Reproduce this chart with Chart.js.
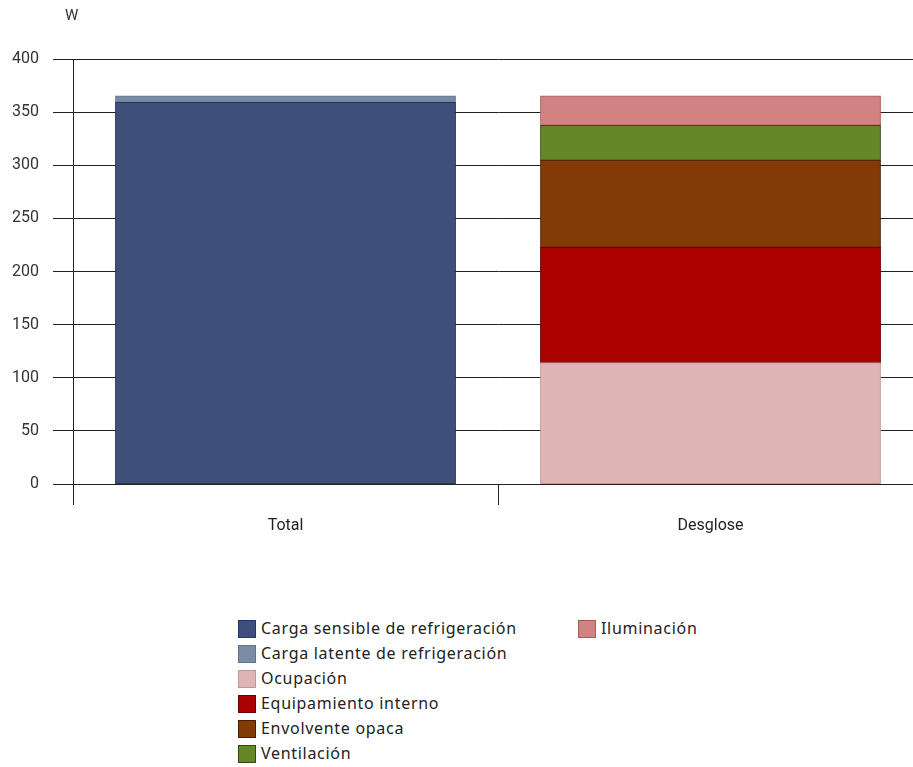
<!DOCTYPE html>
<html>
<head>
<meta charset="utf-8">
<script src="https://cdn.jsdelivr.net/npm/chart.js@4/dist/chart.umd.min.js"></script>
<style>
  html, body { margin: 0; padding: 0; background: #fff; overflow: hidden; width: 913px; height: 767px; }
  #wrap { position: absolute; left: 0; top: 0; }
  #legend { position: absolute; left: 238px; top: 619px; font-family: "Noto Sans", sans-serif; font-size: 16px; letter-spacing: 0.7px; color: #222; }
  .col { position: absolute; top: 0; white-space: nowrap; }
  .item { height: 25px; display: flex; align-items: flex-start; }
  .box { width: 18px; height: 18px; box-sizing: border-box; border: 1px solid; margin-right: 5px; margin-top: 1px; flex: none; }
  .lbl { line-height: 19px; }
</style>
</head>
<body>
<div id="wrap"><canvas id="c" width="923" height="560"></canvas></div>
<div id="legend"></div>
<script>
// Categories and tick labels
const categories = ["Total", "Desglose"];
const yTicks = [0, 50, 100, 150, 200, 250, 300, 350, 400];
const unitLabel = "W";

// Series (W)
const cargaSensible   = [359.2, null];
const cargaLatente    = [6.0, null];
const ocupacion       = [null, 114.2];
const equipamiento    = [null, 108.6];
const envolvente      = [null, 81.9];
const ventilacion     = [null, 32.9];
const iluminacion     = [null, 27.6];

const seriesNames = [
  "Carga sensible de refrigeración",
  "Carga latente de refrigeración",
  "Ocupación",
  "Equipamiento interno",
  "Envolvente opaca",
  "Ventilación",
  "Iluminación"
];
const seriesData = [cargaSensible, cargaLatente, ocupacion, equipamiento, envolvente, ventilacion, iluminacion];
const fillColors = ["#3e5079", "#7a8ba4", "#dfb4b4", "#aa0000", "#843a05", "#678628", "#d18383"];
const edgeColors = ["#23356a", "#5f7190", "#c49595", "#6e0000", "#4a1d00", "#2e4a0c", "#a85a5a"];

const datasets = seriesNames.map((name, i) => ({
  label: name,
  data: seriesData[i],
  backgroundColor: fillColors[i],
  borderColor: edgeColors[i],
  borderWidth: 1,
  borderSkipped: false,
  inflateAmount: 0.4,
  categoryPercentage: 0.8,
  barPercentage: 1.0
}));

// Unit caption above the value axis
const unitPlugin = {
  id: "unitLabel",
  afterDraw(chart) {
    const ctx = chart.ctx;
    ctx.save();
    ctx.font = "15px Roboto";
    ctx.fillStyle = "#333";
    ctx.textAlign = "left";
    ctx.textBaseline = "middle";
    ctx.fillText(unitLabel, 65, 16);
    ctx.restore();
  }
};

const chart = new Chart(document.getElementById("c"), {
  type: "bar",
  data: { labels: categories, datasets },
  options: {
    responsive: false,
    animation: false,
    layout: { padding: { top: 59, left: 0, right: 0, bottom: 0 } },
    plugins: { legend: { display: false }, tooltip: { enabled: false } },
    scales: {
      x: {
        stacked: true,
        offset: true,
        grid: { offset: true, drawOnChartArea: false, tickLength: 21, color: "#222", lineWidth: 1 },
        border: { display: false },
        ticks: { font: { family: "Roboto", size: 16 }, color: "#222", padding: 11 },
        afterFit(s) { s.height = 76; }
      },
      y: {
        stacked: true,
        min: 0,
        max: 400,
        afterBuildTicks(s) { s.ticks = yTicks.map(v => ({ value: v })); },
        grid: { tickLength: 20, color: "#222", lineWidth: 1 },
        border: { display: true, color: "#222", width: 1 },
        ticks: { font: { family: "Roboto", size: 16 }, color: "#333", padding: 14 },
        afterFit(s) { s.width = 73; }
      }
    }
  },
  plugins: [unitPlugin]
});

// Legend built from the chart's datasets, laid out in columns
const legendEl = document.getElementById("legend");
const columns = [[0, 1, 2, 3, 4, 5], [6]];
const colLeft = [0, 340];
columns.forEach((idxs, c) => {
  const col = document.createElement("div");
  col.className = "col";
  col.style.left = colLeft[c] + "px";
  idxs.forEach(i => {
    const ds = chart.data.datasets[i];
    const item = document.createElement("div");
    item.className = "item";
    const box = document.createElement("span");
    box.className = "box";
    box.style.background = ds.backgroundColor;
    box.style.borderColor = ds.borderColor;
    const lbl = document.createElement("span");
    lbl.className = "lbl";
    lbl.textContent = ds.label;
    item.appendChild(box);
    item.appendChild(lbl);
    col.appendChild(item);
  });
  legendEl.appendChild(col);
});
</script>
</body>
</html>
